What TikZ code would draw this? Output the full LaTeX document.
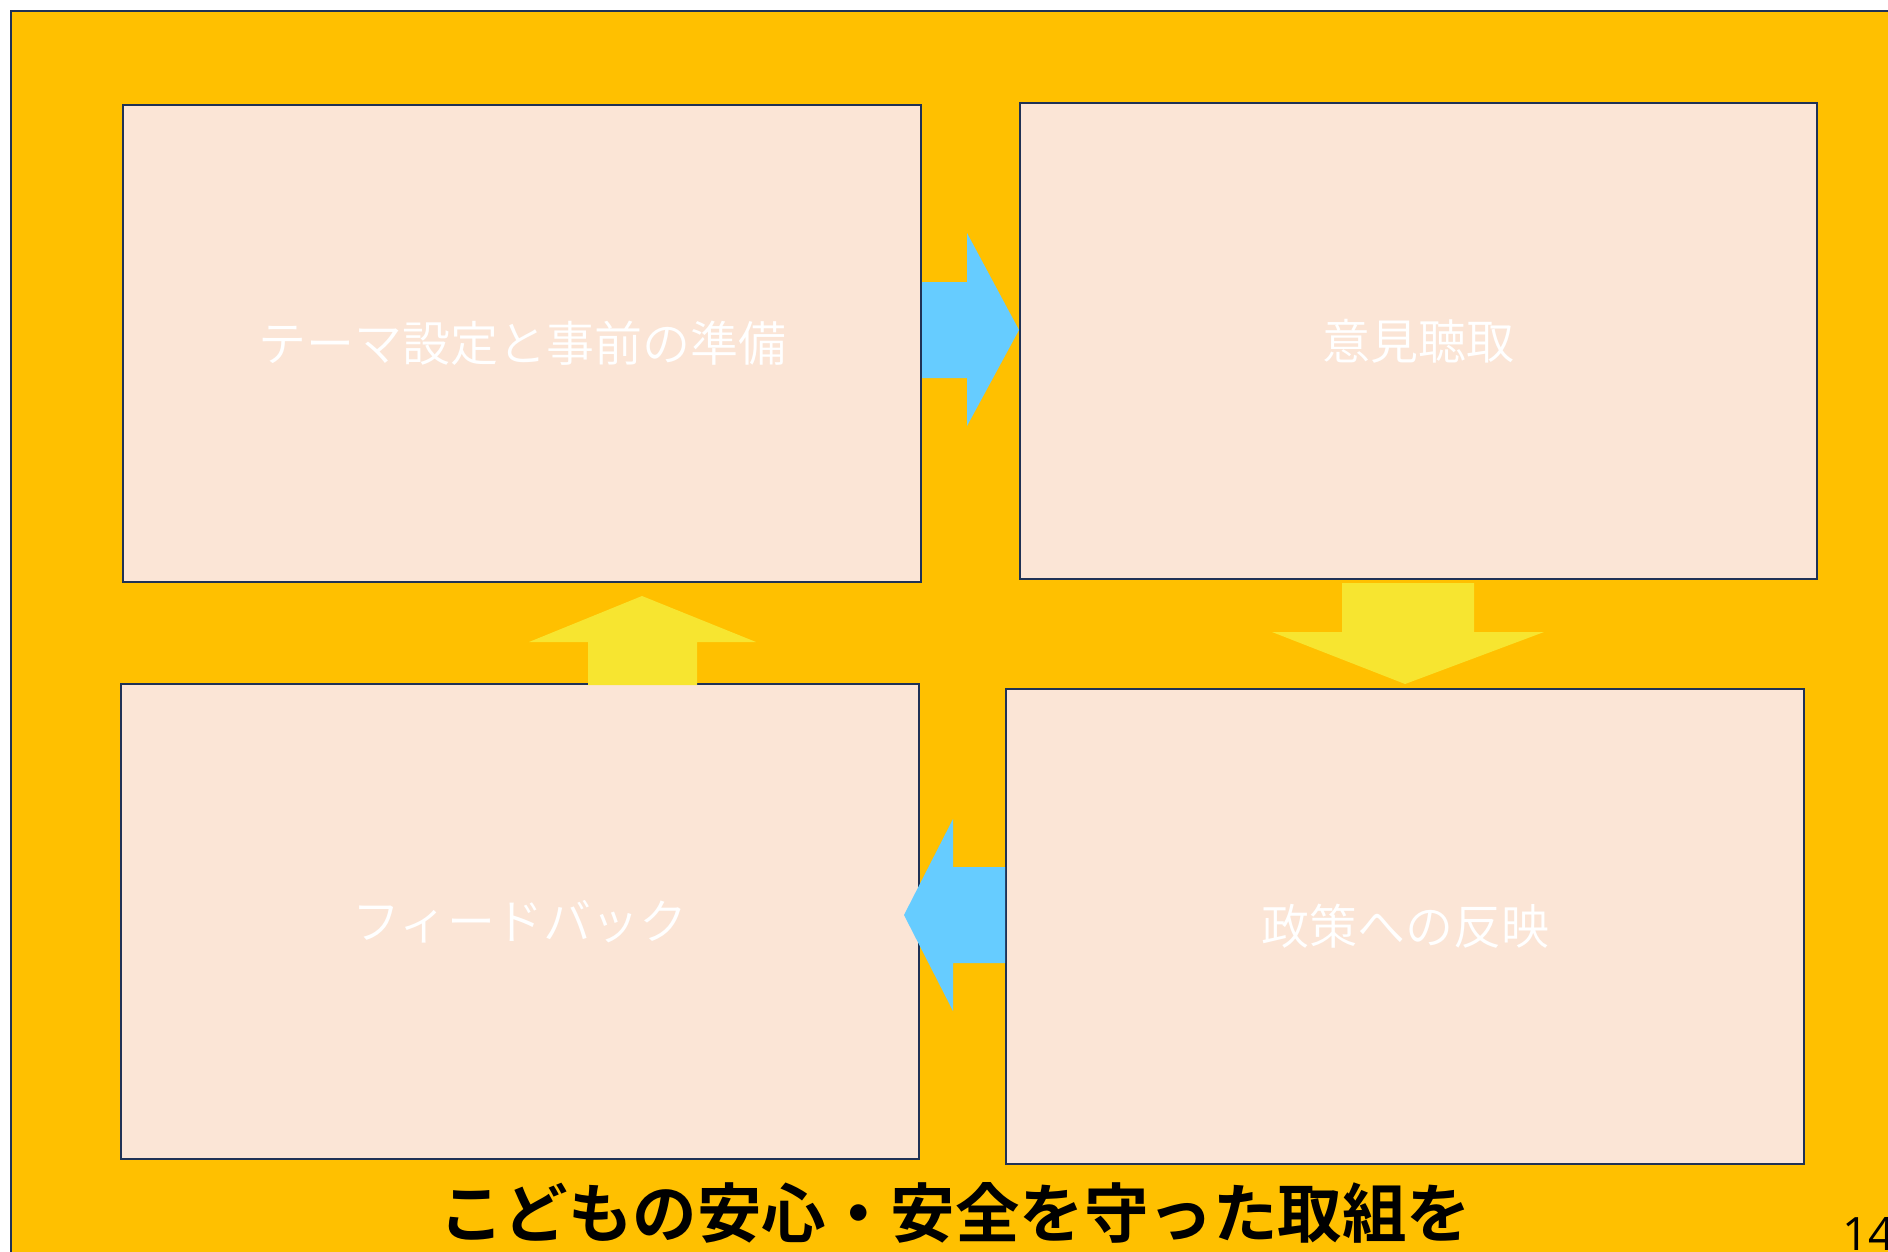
\documentclass[tikz,border=0pt]{standalone}
\usepackage{fontspec}
\newfontfamily\jplight{Noto Sans CJK JP}[UprightFont=* DemiLight]
\newfontfamily\jpbold{Noto Sans CJK JP}[UprightFont=* Bold]
\newfontfamily\numfont{Open Sans}
\definecolor{bgyellow}{HTML}{FFC000}
\definecolor{boxfill}{HTML}{FBE5D6}
\definecolor{navy}{HTML}{1F3256}
\definecolor{arrowblue}{HTML}{66CCFF}
\definecolor{arrowyellow}{HTML}{F7E530}
\tikzset{
  stagebox/.style={draw=navy, line width=2.2pt, fill=boxfill, anchor=north west,
    inner sep=0pt, text=white, font=\jplight\fontsize{48}{56}\selectfont},
  bluearrow/.style={fill=arrowblue, draw=none},
  yellowarrow/.style={fill=arrowyellow, draw=none}
}
\begin{document}
\begin{tikzpicture}[x=1pt,y=-1pt]
\clip (0,0) rectangle (1888,1251);
\useasboundingbox (0,0) rectangle (1888,1251);
\fill[white] (0,0) rectangle (1888,1251);
\draw[navy, line width=2.5pt, fill=bgyellow] (11,11) rectangle (1910,1280);
% boxes
\node[stagebox, minimum width=798pt, minimum height=477pt] (b1) at (122,104) {テーマ設定と事前の準備};
\node[stagebox, minimum width=797pt, minimum height=476pt] (b2) at (1019,102) {意見聴取};
\node[stagebox, minimum width=798pt, minimum height=475pt] (b3) at (120,683) {フィードバック};
\node[stagebox, minimum width=798pt, minimum height=475pt] (b4) at (1005,688) {政策への反映};
% right arrow b1 -> b2
\fill[bluearrow] (b1.east |- 0,282) -- (967,282) -- (967,233) -- (b2.west |- 0,330) -- (967,426) -- (967,378) -- (b1.east |- 0,378) -- cycle;
% down arrow b2 -> b4
\fill[yellowarrow] (1342,583) -- (1474,583) -- (1474,632) -- (1544,632) -- (b4.north |- 0,684) -- (1272,632) -- (1342,632) -- cycle;
% left arrow b4 -> b3
\fill[bluearrow] (b4.west |- 0,867) -- (953,867) -- (953,819) -- (904,915) -- (953,1011) -- (953,963) -- (b4.west |- 0,963) -- cycle;
% up arrow b3 -> b1
\fill[yellowarrow] (588,685) -- (588,642) -- (529,642) -- (642,596) -- (756,642) -- (697,642) -- (697,685) -- cycle;
% bottom title
\node[anchor=center, inner sep=0pt, font=\jpbold\fontsize{64.5}{72}\selectfont] (title) at (955,1213) {こどもの安心・安全を守った取組を};
% page number
\node[anchor=base west, inner sep=0pt, font=\numfont\fontsize{46}{54}\selectfont] (pnum) at (1842,1250) {14};
\end{tikzpicture}
\end{document}
